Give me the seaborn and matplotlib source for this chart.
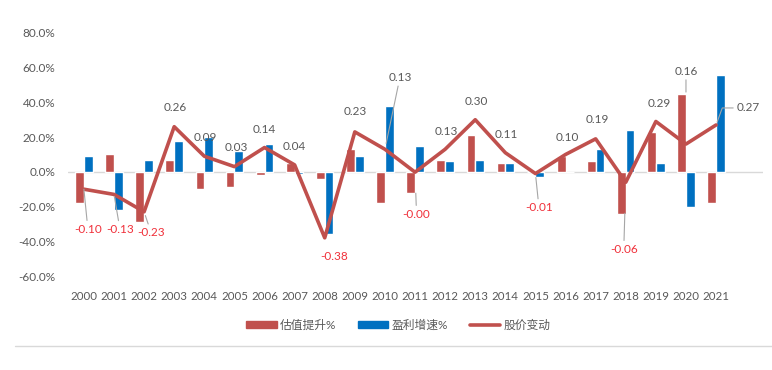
import numpy as np
import pandas as pd
import matplotlib.pyplot as plt
import seaborn as sns
from matplotlib.patches import Patch
from matplotlib.lines import Line2D

# datos
anios = [str(a) for a in range(2000, 2022)]
valuacion = [-0.18, 0.10, -0.29, 0.07, -0.10, -0.09, -0.02, 0.05, -0.04, 0.13, -0.18,
             -0.12, 0.07, 0.21, 0.05, 0.00, 0.09, 0.06, -0.24, 0.23, 0.45, -0.18]
beneficio = [0.09, -0.22, 0.07, 0.18, 0.20, 0.12, 0.16, -0.01, -0.36, 0.09, 0.38,
             0.15, 0.06, 0.07, 0.05, -0.03, 0.00, 0.13, 0.24, 0.05, -0.20, 0.56]
precio = [-0.10, -0.13, -0.23, 0.26, 0.09, 0.03, 0.14, 0.04, -0.38, 0.23, 0.13,
          -0.002, 0.13, 0.30, 0.11, -0.01, 0.10, 0.19, -0.06, 0.29, 0.16, 0.27]
series = ["估值提升%", "盈利增速%", "股价变动"]
yticks = [-0.6, -0.4, -0.2, 0.0, 0.2, 0.4, 0.6, 0.8]

ROJO = "#C0504D"
AZUL = "#0070C0"
GRIS = "#595959"
ROJO_TXT = "#F0303A"

sns.set_style("white")
plt.rcParams["font.family"] = ["Lato", "Noto Sans CJK SC", "DejaVu Sans"]

barras = pd.DataFrame({
    "anio": anios * 2,
    "valor": valuacion + beneficio,
    "serie": [series[0]] * len(anios) + [series[1]] * len(anios),
})

fig = plt.figure(figsize=(7.72, 3.70), dpi=100)
ax = fig.add_axes([0.088, 0.254, 0.900, 0.657])

sns.barplot(data=barras, x="anio", y="valor", hue="serie", palette=[ROJO, AZUL],
            width=0.58, gap=0, saturation=1, legend=False, ax=ax)
x = np.arange(len(anios))
sns.lineplot(x=x, y=precio, color=ROJO, linewidth=2.6, ax=ax)

ax.axhline(0, color="#D9D9D9", linewidth=1.0, zorder=0.5)
ax.set_xlim(-0.53, 22.55)
ax.set_ylim(-0.6, 0.8)
ax.set_yticks(yticks)
ax.set_yticklabels([f"{v*100:.1f}%" for v in yticks])
ax.set_xticks(x)
ax.set_xticklabels(anios)
ax.tick_params(axis="y", length=0, pad=9, labelsize=8.5, labelcolor=GRIS)
ax.tick_params(axis="x", length=0, pad=11, labelsize=8.3, labelcolor=GRIS)
ax.set_xlabel("")
ax.set_ylabel("")
for s in ax.spines.values():
    s.set_visible(False)

# posición de etiquetas (dx, dy en píxeles) y guía (recorte en píxeles)
etiquetas = [(4, -40, 0), (6, -35, 2), (7, -21, 4), (1, 19, None), (1, 19, None),
             (1.5, 19.5, None), (0, 18, None), (0, 18, None), (9, -19, None),
             (0, 20, None), (15, 72, 6), (1.5, -42, 21), (1, 18, None), (1, 18, None),
             (0.6, 18.6, None), (3.5, -34, 4), (2, 17, None), (2, 19.5, None),
             (-2, -67, 31), (3, 18, None), (0, 73, 52), (32, 17, 3)]

for i, (v, (dx, dy, guia)) in enumerate(zip(precio, etiquetas)):
    color = ROJO_TXT if v < 0 else GRIS
    props = None
    if guia is not None:
        props = dict(arrowstyle="-", color="#A6A6A6", lw=0.8, shrinkA=0,
                     shrinkB=guia / 1.389)
        if i == len(precio) - 1:
            props["connectionstyle"] = "angle,angleA=0,angleB=70,rad=0"
    ax.annotate(f"{v:.2f}", xy=(i, v), xytext=(dx, dy), textcoords="offset pixels",
                ha="center", va="center", fontsize=8.5, color=color,
                arrowprops=props, zorder=5)

handles = [Patch(color=ROJO), Patch(color=AZUL), Line2D([], [], color=ROJO, lw=2.6)]
fig.legend(handles, series, loc="center", bbox_to_anchor=(0.516, 0.122), ncol=3,
           frameon=False, fontsize=8.5, labelcolor=GRIS, handlelength=2.6,
           handleheight=0.6, handletextpad=0.3, columnspacing=1.8)

fig.add_artist(Line2D([15 / 772, 1.0], [1 - 346 / 370] * 2, transform=fig.transFigure,
                      color="#D9D9D9", lw=1.0))

fig.savefig("out.png", dpi=100)
